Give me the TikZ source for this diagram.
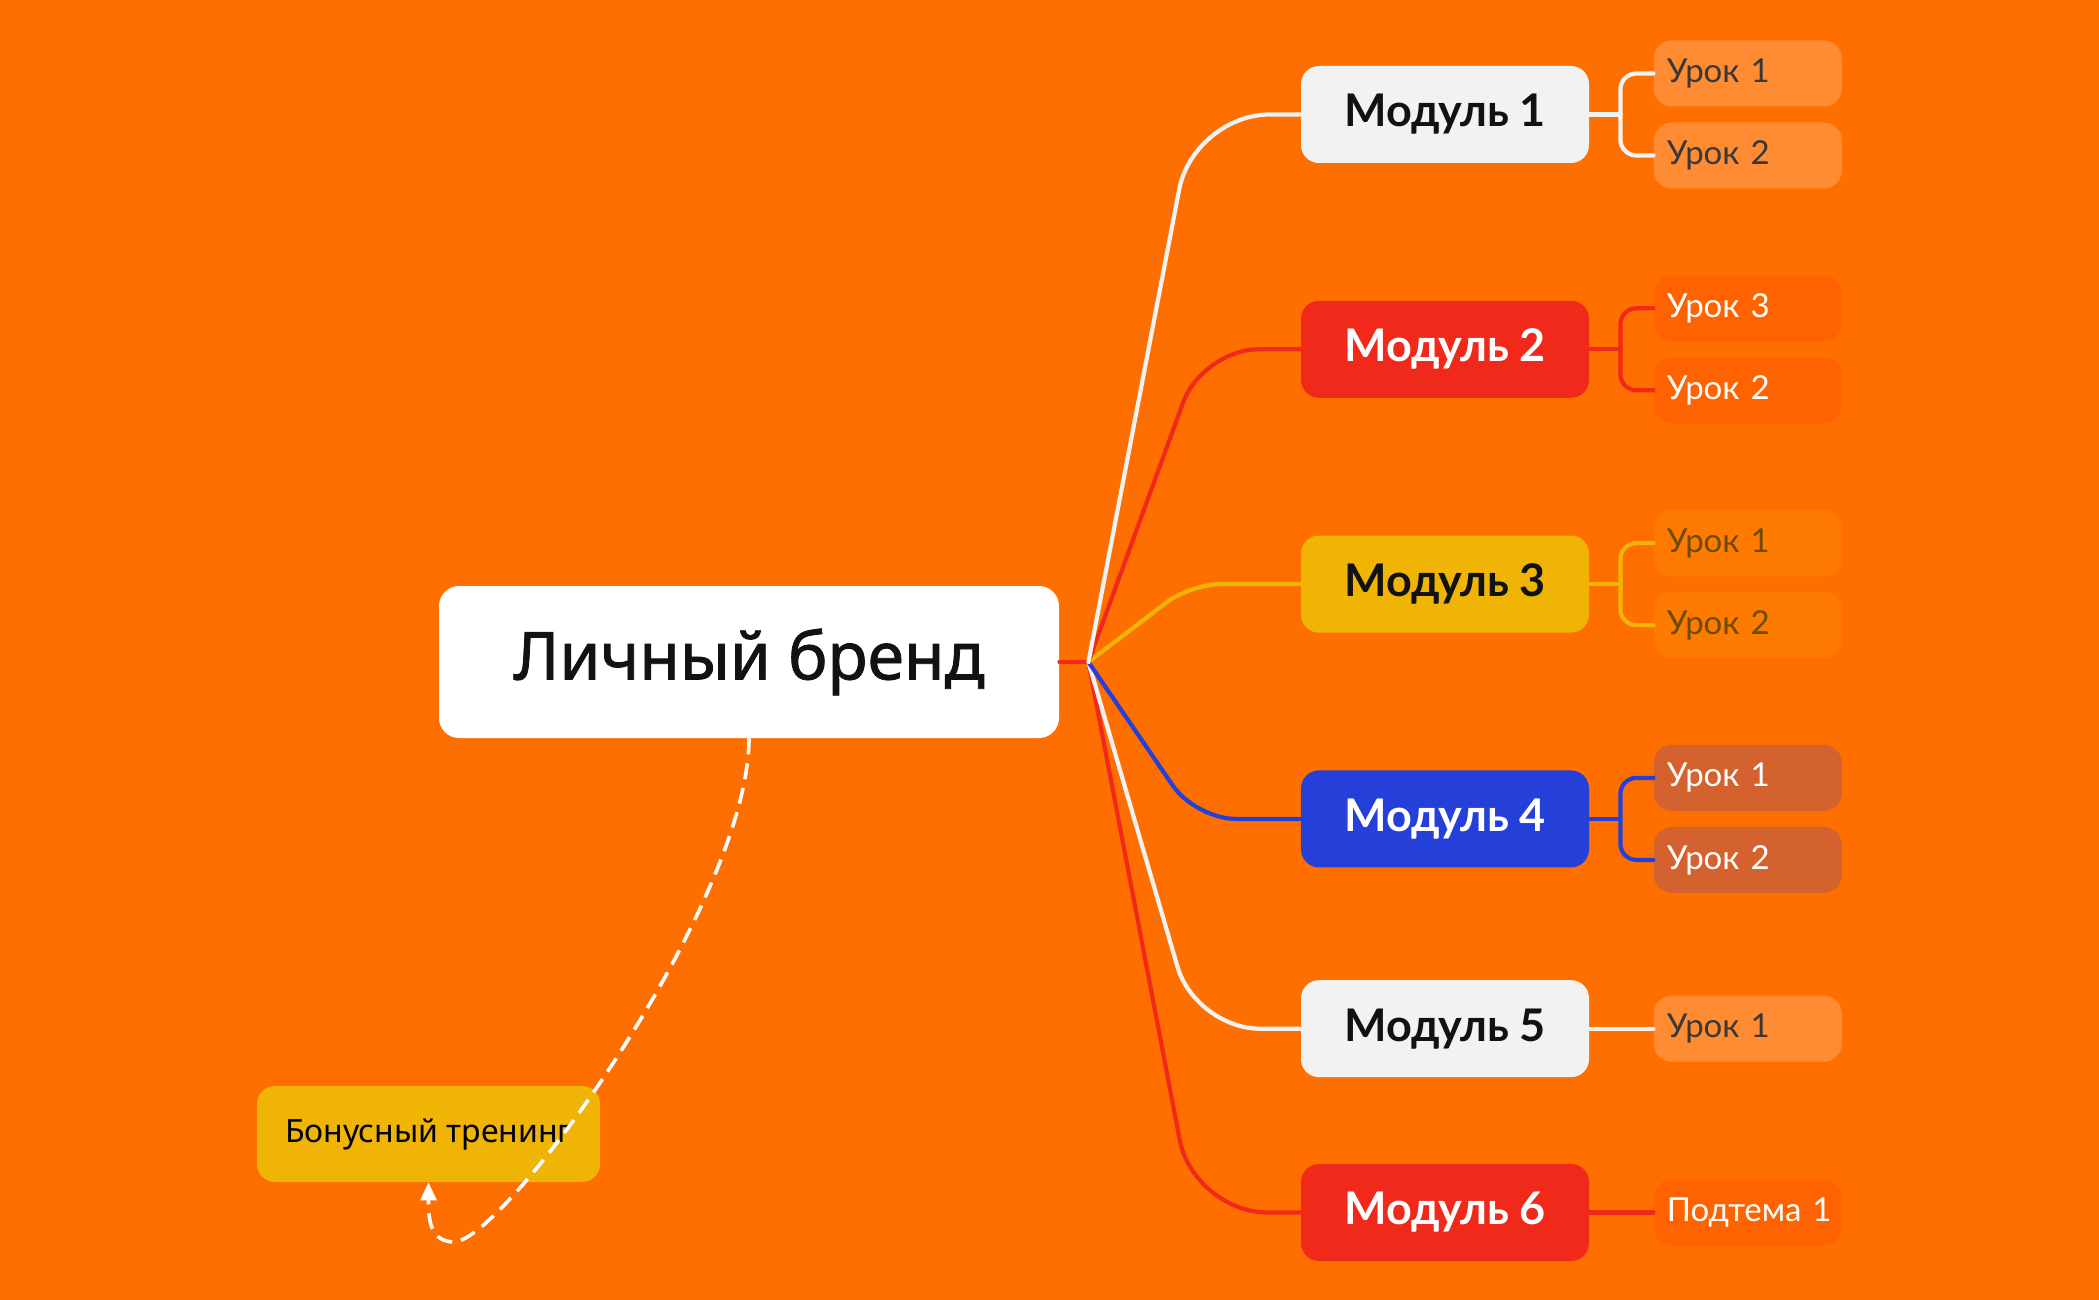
\documentclass[tikz,border=0pt]{standalone}
\usepackage{fontspec}
\setmainfont{Noto Sans}
\newfontfamily\modfont{Lato}
\newfontfamily\rootfont[FakeBold=1.2]{Noto Sans}
\usetikzlibrary{positioning}
\usetikzlibrary{arrows.meta}
\definecolor{bg}{HTML}{FF6F00}
\definecolor{mwhite}{HTML}{F2F2F2}
\definecolor{mred}{HTML}{F0291A}
\definecolor{myellow}{HTML}{F0B405}
\definecolor{mblue}{HTML}{253FD9}
\definecolor{lpale}{HTML}{FF8C33}
\definecolor{ldeep}{HTML}{FF6300}
\definecolor{lwarm}{HTML}{FF7A00}
\definecolor{lbrown}{HTML}{D4622E}
\definecolor{ltext}{HTML}{383838}
\definecolor{lolive}{HTML}{6B4C00}
\tikzstyle{module} = [rectangle, rounded corners=9pt, minimum width=144pt, minimum
height=48.5pt, inner sep=0pt, font=\modfont\bfseries\fontsize{22.5pt}{26pt}\selectfont]
\tikzstyle{lesson} = [rectangle, rounded corners=9pt, text width=81pt, inner xsep=6.5pt,
inner ysep=0pt, minimum height=33pt, align=left, font=\modfont\fontsize{16.5pt}{20pt}\selectfont]
\tikzstyle{link} = [line width=2.1pt, line cap=round]

\begin{document}
\begin{tikzpicture}[x=0.5pt, y=-0.5pt]
  \tikzstyle{bonuslink}=[white, line width=1.8pt, dash pattern=on 8pt off 4.5pt,
  -{Triangle[length=9pt, width=8pt]}]

  \fill[bg] (0,0) rectangle (2099,1300);
  \useasboundingbox (0,0) rectangle (2099,1300);

  \node (root) [rectangle, fill=white, rounded corners=10pt, minimum width=310pt,
    minimum height=76pt, text=black!93, font=\rootfont\fontsize{33pt}{40pt}\selectfont]
    at (749,662) {Личный бренд};
  \node (bonus) [rectangle, fill=myellow, rounded corners=9pt, minimum width=171.5pt,
    minimum height=48pt, font=\fontsize{16pt}{19pt}\selectfont] at (428.5,1134)
    {Бонусный тренинг};
  \coordinate[right=14.5pt of root] (hub);

  \node (m1) [module, fill=mwhite, text=black!93] at (1445,114.5) {Модуль 1};
  \node (m2) [module, fill=mred, text=white, below=68.5pt of m1] {Модуль 2};
  \node (m3) [module, fill=myellow, text=black!93, below=68.5pt of m2] {Модуль 3};
  \node (m4) [module, fill=mblue, text=white, below=68.5pt of m3] {Модуль 4};
  \node (m5) [module, fill=mwhite, text=black!93, below=56pt of m4] {Модуль 5};
  \node (m6) [module, fill=mred, text=white, below=43pt of m5] {Модуль 6};

  \node (l11) [lesson, fill=lpale, text=ltext, right=32pt of m1, yshift=20.5pt] {Урок 1};
  \node (l12) [lesson, fill=lpale, text=ltext, right=32pt of m1, yshift=-20.5pt] {Урок 2};
  \node (l21) [lesson, fill=ldeep, text=white, right=32pt of m2, yshift=20.5pt] {Урок 3};
  \node (l22) [lesson, fill=ldeep, text=white, right=32pt of m2, yshift=-20.5pt] {Урок 2};
  \node (l31) [lesson, fill=lwarm, text=lolive, right=32pt of m3, yshift=20.5pt] {Урок 1};
  \node (l32) [lesson, fill=lwarm, text=lolive, right=32pt of m3, yshift=-20.5pt] {Урок 2};
  \node (l41) [lesson, fill=lbrown, text=white, right=32pt of m4, yshift=20.5pt] {Урок 1};
  \node (l42) [lesson, fill=lbrown, text=white, right=32pt of m4, yshift=-20.5pt] {Урок 2};
  \node (l51) [lesson, fill=lpale, text=ltext, right=32pt of m5] {Урок 1};
  \node (l61) [lesson, fill=ldeep, text=white, right=32pt of m6] {Подтема~1};

  \coordinate[right=15.5pt of m1] (j1);
  \coordinate[right=15.5pt of m2] (j2);
  \coordinate[right=15.5pt of m3] (j3);
  \coordinate[right=15.5pt of m4] (j4);

  \draw[link, mred] (root) -- (hub);
  \draw[link, mred, rounded corners=37pt] (hub) -- ([xshift=-53.5pt]m6.west) -- (m6);
  \draw[link, mwhite, rounded corners=32pt] (hub) -- ([xshift=-52.5pt]m5.west) -- (m5);
  \draw[link, mblue, rounded corners=20pt] (hub) -- ([xshift=-52.5pt]m4.west) -- (m4);
  \draw[link, myellow, rounded corners=15pt] (hub) -- ([xshift=-55pt]m3.west) -- (m3);
  \draw[link, mred, rounded corners=28pt] (hub) -- ([xshift=-49pt]m2.west) -- (m2);
  \draw[link, mwhite, rounded corners=38pt] (hub) -- ([xshift=-53.5pt]m1.west) -- (m1);

  \draw[link, mwhite] (m1) -- (j1);
  \draw[link, mwhite, rounded corners=8pt] (j1) |- (l11);
  \draw[link, mwhite, rounded corners=8pt] (j1) |- (l12);
  \draw[link, mred] (m2) -- (j2);
  \draw[link, mred, rounded corners=8pt] (j2) |- (l21);
  \draw[link, mred, rounded corners=8pt] (j2) |- (l22);
  \draw[link, myellow] (m3) -- (j3);
  \draw[link, myellow, rounded corners=8pt] (j3) |- (l31);
  \draw[link, myellow, rounded corners=8pt] (j3) |- (l32);
  \draw[link, mblue] (m4) -- (j4);
  \draw[link, mblue, rounded corners=8pt] (j4) |- (l41);
  \draw[link, mblue, rounded corners=8pt] (j4) |- (l42);
  \draw[link, mwhite] (m5) -- (l51);
  \draw[link, mred] (m6) -- (l61);

  \coordinate (loop) at (455,1242);
  \draw[bonuslink] (root.south) .. controls +(0,162) and +(55,-7) .. (loop)
  .. controls +(-25,0) and +(0,38) .. (bonus.south);
\end{tikzpicture}
\end{document}
